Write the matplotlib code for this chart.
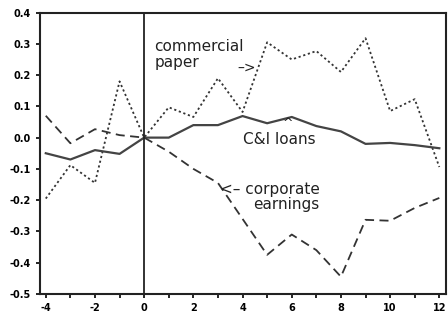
import matplotlib
matplotlib.use("Agg")
import matplotlib.pyplot as plt

# quarters relative to event
quarters = list(range(-4, 13))

commercial_paper = [-0.195, -0.088, -0.145, 0.18, 0.0, 0.097, 0.066, 0.19, 0.082,
                    0.305, 0.25, 0.277, 0.21, 0.318, 0.085, 0.123, -0.094]
ci_loans = [-0.05, -0.07, -0.04, -0.052, 0.0, 0.0, 0.04, 0.04, 0.069,
            0.046, 0.066, 0.037, 0.02, -0.02, -0.017, -0.024, -0.034]
corp_earnings = [0.07, -0.018, 0.027, 0.008, 0.0, -0.045, -0.1, -0.145, -0.26,
                 -0.375, -0.31, -0.36, -0.445, -0.263, -0.266, -0.225, -0.193]

xticks = list(range(-4, 13, 2))
yticks = [0.4, 0.3, 0.2, 0.1, 0.0, -0.1, -0.2, -0.3, -0.4, -0.5]

fig = plt.figure(figsize=(4.48, 3.15), dpi=100)
ax = fig.add_axes([0.089, 0.067, 0.907, 0.893])

ax.plot(quarters, commercial_paper, color="#333333", lw=1.3, ls=(0, (1.2, 1.5)))
ax.plot(quarters, ci_loans, color="#444444", lw=1.6, ls="-")
ax.plot(quarters, corp_earnings, color="#333333", lw=1.3, ls=(0, (5, 3)))
ax.axvline(0, color="#222222", lw=1.3)

ax.set_xlim(-4.24, 12.28)
ax.set_ylim(-0.5, 0.4)
ax.set_xticks(xticks)
ax.set_xticks(quarters, minor=True)
ax.set_xticklabels([str(t) for t in xticks], fontsize=7, fontweight="bold")
ax.set_yticks(yticks)
ax.set_yticklabels(["%.1f" % t for t in yticks], fontsize=7, fontweight="bold")
ax.tick_params(axis="both", which="both", direction="out", length=3, width=1.2)
for s in ax.spines.values():
    s.set_linewidth(1.5)
    s.set_color("#222222")

# annotations
ax.text(0.41, 0.29, "commercial", fontsize=11, va="center", ha="left", color="#222222")
ax.text(0.41, 0.24, "paper", fontsize=11, va="center", ha="left", color="#222222")
ax.text(4.15, 0.225, "–>", fontsize=10, ha="center", va="center", color="#222222")
ax.text(4.02, -0.005, "C&I loans", fontsize=11, ha="left", va="center", color="#222222")
ax.text(5.85, 0.045, "^", fontsize=9, ha="center", va="center", color="#222222")
ax.text(3.09, -0.165, "<– corporate", fontsize=11, ha="left", va="center", color="#222222")
ax.text(4.43, -0.213, "earnings", fontsize=11, ha="left", va="center", color="#222222")

fig.savefig("out.png", dpi=100)
